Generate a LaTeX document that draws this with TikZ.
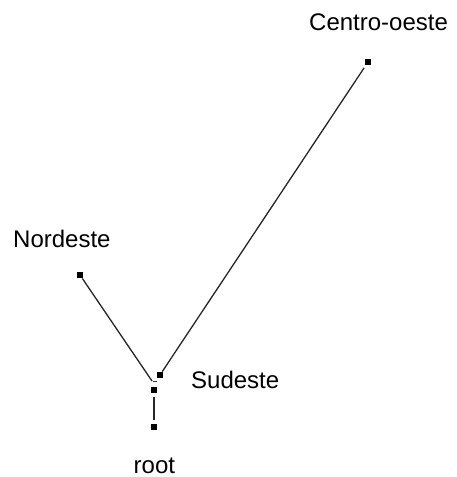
\documentclass[tikz,border=0pt]{standalone}
\usepackage{fontspec}
\setmainfont{Liberation Sans}
\begin{document}
\begin{tikzpicture}[x=1pt,y=-1pt,
  dot/.style={rectangle,fill=black,draw=none,minimum size=6.5pt,inner sep=0pt},
  edge/.style={line width=1.3pt,black!85},
  lbl/.style={anchor=base west,inner sep=0pt,font=\fontsize{24}{28}\selectfont}]
  \useasboundingbox[fill=white] (0,0) rectangle (457,477);

  % tree vertices
  \node[dot] (centro) at (368,62) {};
  \node[dot] (nordeste) at (80,275) {};
  \node[dot] (sudeste) at (160,375) {};
  \node[dot] (mid) at (154,390) {};
  \node[dot] (root) at (154,427) {};
  \coordinate (join) at (152,381);

  % branches
  \draw[edge] (nordeste) -- (join);
  \draw[edge,shorten <=3pt] (centro) -- (sudeste);
  \draw[edge,shorten <=4pt,shorten >=4pt] (mid) -- (root);
  \draw[line width=1pt,black!80] (153,381.5) -- (157,381.5);

  % labels
  \node[lbl] (lcentro) at (309,30) {Centro-oeste};
  \node[lbl] (lnordeste) at (13,247) {Nordeste};
  \node[lbl] (lsudeste) at (191,388) {Sudeste};
  \node[lbl] (lroot) at (133.5,473.5) {root};
\end{tikzpicture}
\end{document}
